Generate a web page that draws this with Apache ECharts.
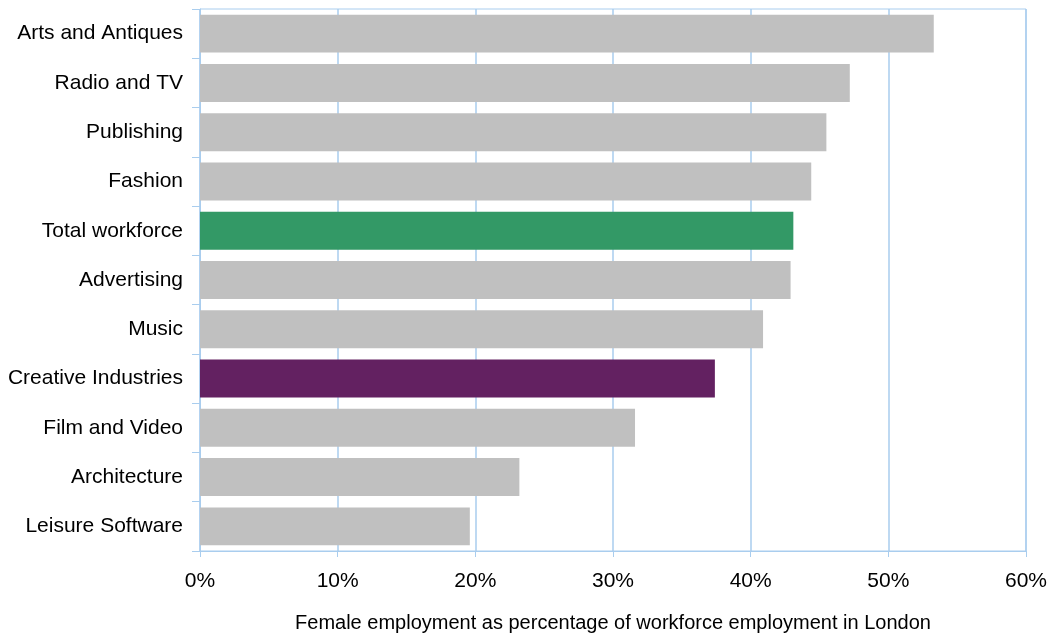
<!DOCTYPE html>
<html>
<head>
<meta charset="utf-8">
<script src="https://cdn.jsdelivr.net/npm/echarts@6/dist/echarts.min.js"></script>
<style>
  html, body { margin: 0; padding: 0; background: #fff; }
  #chart { width: 1053px; height: 639px; }
</style>
</head>
<body>
<div id="chart"></div>
<script>
// categories top to bottom
var categories = ['Arts and Antiques', 'Radio and TV', 'Publishing', 'Fashion', 'Total workforce',
  'Advertising', 'Music', 'Creative Industries', 'Film and Video', 'Architecture', 'Leisure Software']
// female share of workforce, %
var femaleShare = [53.3, 47.2, 45.5, 44.4, 43.1, 42.9, 40.9, 37.4, 31.6, 23.2, 19.6]
var highlight = {
  'Total workforce': '#339966',
  'Creative Industries': '#632161'
}

var gridBlue = '#a9cdee'
var chart = echarts.init(document.getElementById('chart'))

chart.setOption({
  animation: false,
  textStyle: { fontFamily: 'Liberation Sans, Arial, sans-serif' },
  grid: {
    left: 200,
    right: 27,
    top: 9,
    bottom: 88,
    outerBoundsMode: 'none',
    containLabel: false,
    show: true,
    borderColor: gridBlue,
    borderWidth: 1
  },
  xAxis: {
    type: 'value',
    min: 0,
    max: 60,
    interval: 10,
    name: 'Female employment as percentage of workforce employment in London',
    nameLocation: 'middle',
    nameGap: 62,
    nameTextStyle: { fontSize: 20, color: '#000' },
    axisLine: { show: true, lineStyle: { color: gridBlue } },
    axisTick: { show: true, length: 6, lineStyle: { color: gridBlue } },
    axisLabel: { formatter: '{value}%', fontSize: 21, color: '#000', margin: 20 },
    splitLine: { show: true, lineStyle: { color: gridBlue, width: 1.5 } }
  },
  yAxis: {
    type: 'category',
    inverse: true,
    data: categories,
    axisLine: { show: true, lineStyle: { color: gridBlue } },
    axisTick: { show: true, length: 8, lineStyle: { color: gridBlue } },
    axisLabel: { fontSize: 21, color: '#000', margin: 17 }
  },
  series: [{
    type: 'bar',
    barCategoryGap: '23%',
    data: femaleShare.map(function (v, i) {
      return {
        value: v,
        itemStyle: { color: highlight[categories[i]] || '#c0c0c0' }
      }
    })
  }]
})
</script>
</body>
</html>
